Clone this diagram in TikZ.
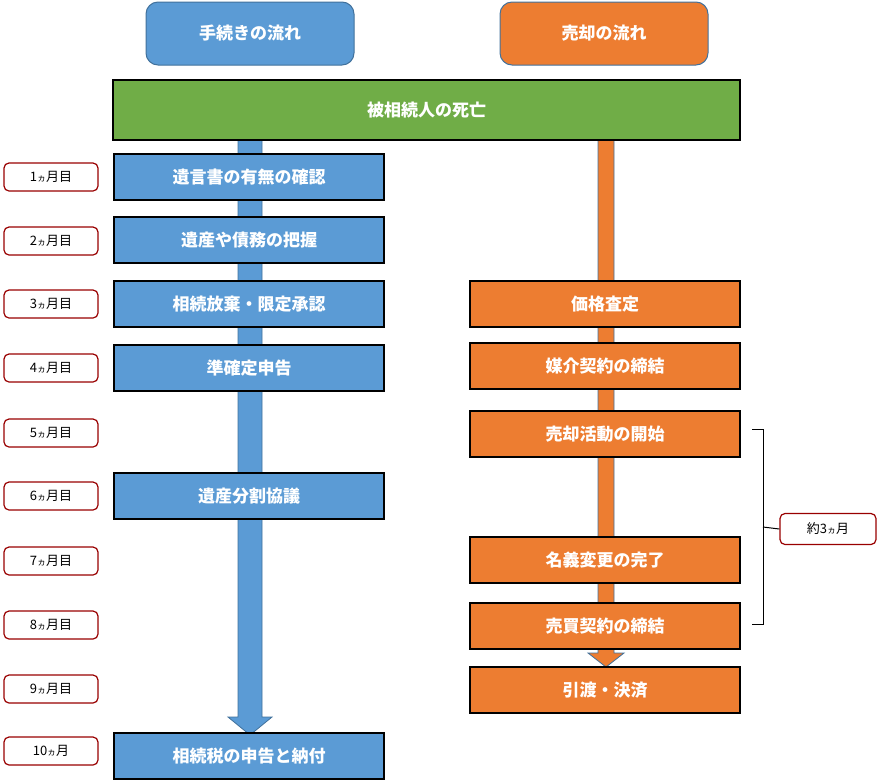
\documentclass[tikz,border=0pt]{standalone}
\usepackage{fontspec}
\setmainfont{Noto Sans CJK JP}
\begin{document}
\begin{tikzpicture}[x=1pt,y=-1pt,
 bx/.style={draw=black,line width=1.5pt,text=white,font=\fontsize{17}{20}\selectfont\bfseries,inner sep=0pt},
 bl/.style={bx,fill=blue1},
 og/.style={bx,fill=orange1},
 hd/.style={draw=blue2,line width=1pt,rounded corners=12pt,text=white,font=\fontsize{17}{20}\selectfont\bfseries,inner sep=0pt},
 mo/.style={draw=red!60!black,line width=1.2pt,rounded corners=5pt,fill=white,font=\fontsize{13}{15}\selectfont,minimum width=94pt,minimum height=28pt,inner sep=0pt}]
\definecolor{blue1}{HTML}{5B9BD5}\definecolor{blue2}{HTML}{41719C}
\definecolor{orange1}{HTML}{ED7D31}\definecolor{green1}{HTML}{70AD47}
\useasboundingbox (0,0) rectangle (877,780);
% shafts
\draw[blue2,fill=blue1,line width=0.8pt] (238,140)--(238,717)--(228,717)--(250,735)--(272,717)--(262,717)--(262,140)--cycle;
\draw[blue2,fill=orange1,line width=0.8pt] (598,140)--(598,653)--(588,653)--(606,667)--(624,653)--(614,653)--(614,140)--cycle;
\node[hd,fill=blue1,minimum width=208pt,minimum height=63pt] (h1) at (250,33.5) {手続きの流れ};
\node[hd,fill=orange1,draw=blue2,minimum width=208pt,minimum height=63pt] (h2) at (604,33.5) {売却の流れ};
\node[bx,fill=green1,minimum width=627pt,minimum height=60pt] (g) at (426.5,110) {被相続人の死亡};
\foreach \n/\y/\t in {a/177/遺言書の有無の確認,b/240/遺産や債務の把握,c/304/相続放棄・限定承認,d/368/準確定申告,e/496/遺産分割協議,f/756/相続税の申告と納付}
  \node[bl,minimum width=270pt,minimum height=46pt] (\n) at (249,\y) {\t};
\foreach \n/\y/\t in {p/304/価格査定,q/366/媒介契約の締結,r/434/売却活動の開始,s/560/名義変更の完了,t/626/売買契約の締結,u/690/引渡・決済}
  \node[og,minimum width=270pt,minimum height=46pt] (\n) at (605,\y) {\t};
\foreach \i/\y in {1/177,2/241,3/304,4/368,5/433,6/496,7/561,8/625,9/689}
  \node[mo] (m\i) at (51,\y) {\i{\fontsize{9}{10}\selectfont ヵ}月目};
\node[mo] (m10) at (51,751) {10{\fontsize{9}{10}\selectfont ヵ}月};
\node[mo,minimum width=96pt,minimum height=31pt] (k) at (828,529) {約3{\fontsize{9}{10}\selectfont ヵ}月};
\draw[line width=1pt] (752,429)--(763,429)--(763,624)--(752,624);
\draw[line width=1pt] (763,527)--(k.west);
\end{tikzpicture}
\end{document}
